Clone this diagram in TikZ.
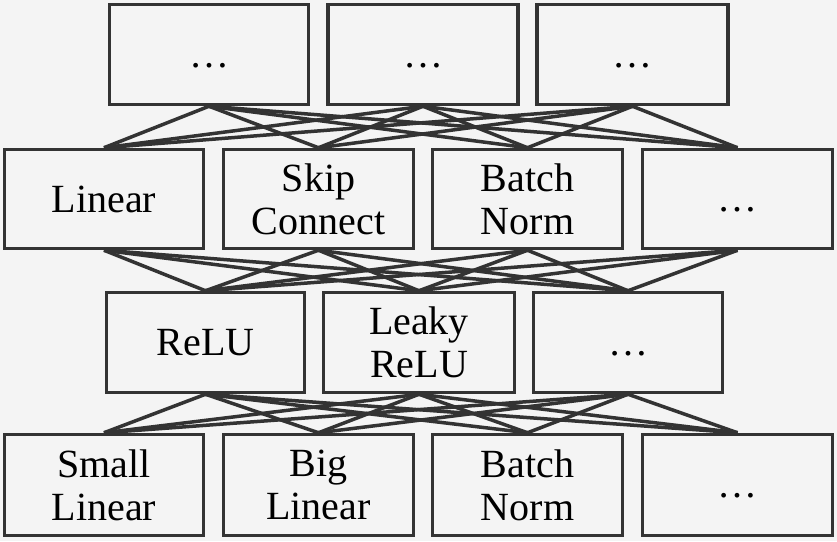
\documentclass[tikz,border=0pt]{standalone}
\usepackage{fontspec}
\setmainfont{Liberation Serif}
\definecolor{bg}{HTML}{F4F4F4}
\definecolor{ink}{HTML}{333333}
\tikzset{
  blk/.style={draw=ink, line width=3.5pt, fill=bg, rectangle, inner sep=0pt,
    align=center, text=black, font=\fontsize{40}{43}\selectfont},
  wire/.style={draw=ink, line width=3.5pt},
}
\newcommand{\dts}{\raisebox{-3pt}{\vphantom{L}\ldots}}
\begin{document}
\begin{tikzpicture}[x=1pt,y=-1pt]
\fill[bg] (0,0) rectangle (837,541);
\useasboundingbox (0,0) rectangle (837,541);
% row 1
\node[blk, minimum width=199pt, minimum height=100pt] (a1) at (209,54.5) {\dts};
\node[blk, minimum width=190pt, minimum height=100pt] (a2) at (423,54.5) {\dts};
\node[blk, minimum width=191pt, minimum height=100pt] (a3) at (632.5,54.5) {\dts};
% row 2
\node[blk, minimum width=199pt, minimum height=99pt] (b1) at (104,199) {Linear};
\node[blk, minimum width=190pt, minimum height=99pt] (b2) at (318.5,199) {Skip\\Connect};
\node[blk, minimum width=190pt, minimum height=99pt] (b3) at (527.5,199) {Batch\\Norm};
\node[blk, minimum width=190pt, minimum height=99pt] (b4) at (737.5,199) {\dts};
% row 3
\node[blk, minimum width=198pt, minimum height=100pt] (c1) at (205.5,342.5) {ReLU};
\node[blk, minimum width=191pt, minimum height=100pt] (c2) at (419,342.5) {Leaky\\ReLU};
\node[blk, minimum width=189pt, minimum height=100pt] (c3) at (628,342.5) {\dts};
% row 4
\node[blk, minimum width=199pt, minimum height=101pt] (d1) at (104,485) {Small\\Linear};
\node[blk, minimum width=190pt, minimum height=101pt] (d2) at (318.5,485) {Big\\Linear};
\node[blk, minimum width=190pt, minimum height=101pt] (d3) at (527.5,485) {Batch\\Norm};
\node[blk, minimum width=190pt, minimum height=101pt] (d4) at (737.5,485) {\dts};
% wires
\foreach \u in {a1,a2,a3}{\foreach \l in {b1,b2,b3,b4}{\draw[wire] (\u.south) -- (\l.north);}}
\foreach \u in {b1,b2,b3,b4}{\foreach \l in {c1,c2,c3}{\draw[wire] (\u.south) -- (\l.north);}}
\foreach \u in {c1,c2,c3}{\foreach \l in {d1,d2,d3,d4}{\draw[wire] (\u.south) -- (\l.north);}}
\end{tikzpicture}
\end{document}
